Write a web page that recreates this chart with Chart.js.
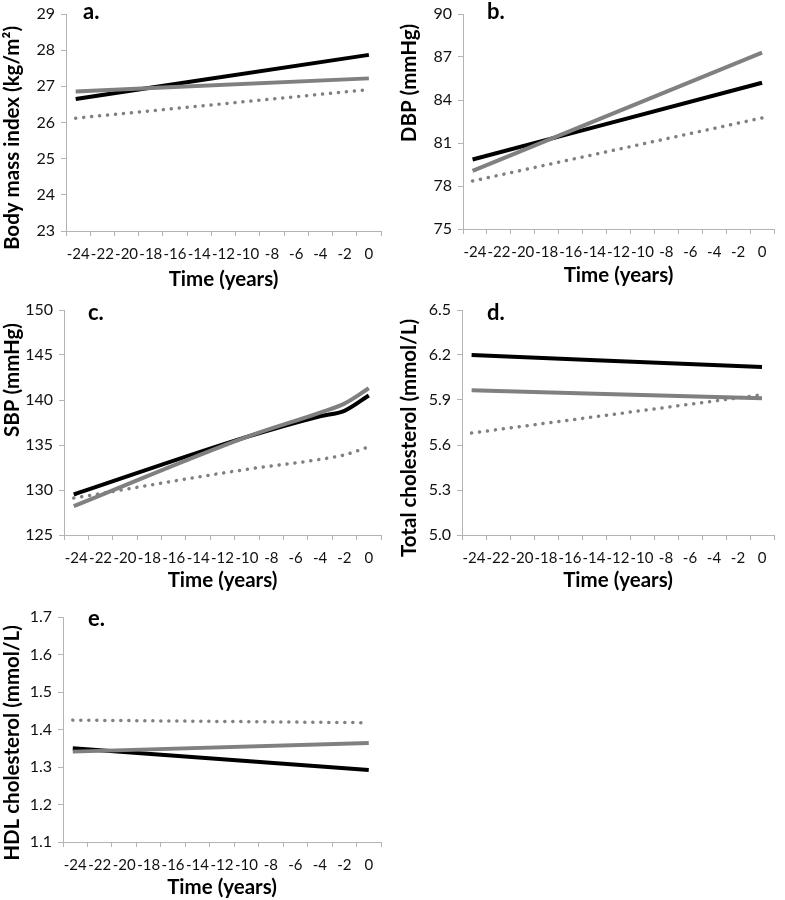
<!DOCTYPE html>
<html>
<head>
<meta charset="utf-8">
<script src="https://cdn.jsdelivr.net/npm/chart.js@4.4.0/dist/chart.umd.min.js"></script>
<style>
  body { margin: 0; background: #fff; }
  #wrap { position: relative; width: 785px; height: 900px; }
  canvas { position: absolute; }
</style>
</head>
<body>
<div id="wrap">
  <canvas id="ca" width="392" height="295" style="left:0;top:0"></canvas>
  <canvas id="cb" width="393" height="295" style="left:392px;top:0"></canvas>
  <canvas id="cc" width="392" height="305" style="left:0;top:295px"></canvas>
  <canvas id="cd" width="393" height="305" style="left:392px;top:295px"></canvas>
  <canvas id="ce" width="392" height="300" style="left:0;top:600px"></canvas>
</div>
<script>
// time points (years before baseline)
const timeYears = [-24.2, 0];
const xTickValues = [-24, -22, -20, -18, -16, -14, -12, -10, -8, -6, -4, -2, 0];

// a. body mass index
const bmiTicks = [23, 24, 25, 26, 27, 28, 29];
const bmiBlack = [26.65, 27.87];
const bmiGrey = [26.86, 27.22];
const bmiDotted = [26.12, 26.91];

// b. diastolic blood pressure
const dbpTicks = [75, 78, 81, 84, 87, 90];
const dbpBlack = [79.85, 85.2];
const dbpGrey = [79.05, 87.3];
const dbpDotted = [78.35, 82.75];

// c. systolic blood pressure
const sbpYears = [-24.2, -10, -4, -2, 0];
const sbpTicks = [125, 130, 135, 140, 145, 150];
const sbpBlack = [129.5, 135.9, 138.2, 138.8, 140.5];
const sbpGrey = [128.2, 135.9, 138.6, 139.6, 141.3];
const sbpDotted = [129.1, 132.3, 133.4, 133.9, 134.8];

// d. total cholesterol
const tcTicks = [5.0, 5.3, 5.6, 5.9, 6.2, 6.5];
const tcBlack = [6.2, 6.12];
const tcGrey = [5.965, 5.912];
const tcDotted = [5.68, 5.935];

// e. HDL cholesterol
const hdlTicks = [1.1, 1.2, 1.3, 1.4, 1.5, 1.6, 1.7];
const hdlBlack = [1.35, 1.292];
const hdlGrey = [1.341, 1.364];
const hdlDotted = [1.425, 1.418];

const FONT = 'Lato';
const AXIS = '#b3b3b3';

// y title + panel letter, drawn where the original put them
const panelText = {
  id: 'panelText',
  afterDraw(chart, args, o) {
    const ctx = chart.ctx;
    ctx.save();
    ctx.fillStyle = '#000';
    ctx.font = 'bold 20.5px ' + FONT;
    ctx.textAlign = 'center';
    ctx.textBaseline = 'middle';
    ctx.translate(o.titleX, o.titleY);
    ctx.rotate(-Math.PI / 2);
    ctx.fillText(o.title, 0, 0);
    ctx.restore();
    ctx.save();
    ctx.fillStyle = '#000';
    ctx.font = 'bold 22px ' + FONT;
    ctx.textAlign = 'left';
    ctx.textBaseline = 'alphabetic';
    ctx.fillText(o.letter, o.letterX, o.letterY);
    ctx.restore();
  }
};

function pts(xs, ys) {
  return xs.map((x, i) => ({ x: x, y: ys[i] }));
}

function makeChart(id, p) {
  const series = [
    { data: pts(p.xs, p.dotted), borderColor: '#808080', borderWidth: 3.5, borderDash: [0.1, 7.9], borderCapStyle: 'round' },
    { data: pts(p.xs, p.grey), borderColor: '#808080', borderWidth: 4 },
    { data: pts(p.xs, p.black), borderColor: '#000000', borderWidth: 4 }
  ];
  series.forEach(s => {
    s.pointRadius = 0;
    s.fill = false;
    s.cubicInterpolationMode = 'monotone';
  });

  return new Chart(document.getElementById(id), {
    type: 'line',
    data: { datasets: series },
    plugins: [panelText],
    options: {
      responsive: false,
      animation: false,
      events: [],
      layout: { padding: { left: 0, top: p.top, right: p.right, bottom: 0 } },
      plugins: {
        legend: { display: false },
        tooltip: { enabled: false },
        panelText: p.text
      },
      scales: {
        x: {
          type: 'linear',
          min: -25,
          max: 1,
          afterBuildTicks: (axis) => {
            const t = [];
            for (let v = -25; v <= 1; v++) t.push({ value: v });
            axis.ticks = t;
          },
          afterFit: (axis) => { axis.height = p.xHeight; },
          border: { display: true, color: AXIS, width: 1 },
          grid: {
            drawOnChartArea: false,
            drawTicks: true,
            tickLength: 5,
            color: (c) => (Math.abs(c.tick.value % 2) === 1 ? AXIS : 'rgba(0,0,0,0)')
          },
          ticks: {
            autoSkip: false,
            maxRotation: 0,
            minRotation: 0,
            padding: 11,
            color: '#111',
            font: { family: FONT, size: 15, lineHeight: 1 },
            callback: (v) => (xTickValues.includes(v) ? String(v) : '')
          },
          title: {
            display: true,
            text: 'Time (years)',
            color: '#000',
            font: { family: FONT, size: 20.5, weight: 'bold', lineHeight: 1.2 },
            padding: { top: 0, bottom: p.xTitlePad }
          }
        },
        y: {
          min: p.ticks[0],
          max: p.ticks[p.ticks.length - 1],
          afterBuildTicks: (axis) => { axis.ticks = p.ticks.map(v => ({ value: v })); },
          afterFit: (axis) => { axis.width = p.yWidth; },
          border: { display: true, color: AXIS, width: 1 },
          grid: { drawOnChartArea: false, drawTicks: true, tickLength: 5, color: AXIS },
          ticks: {
            padding: 6,
            color: '#111',
            font: { family: FONT, size: 16, lineHeight: 1 },
            callback: (v) => v.toFixed(p.decimals)
          }
        }
      }
    }
  });
}

makeChart('ca', {
  xs: timeYears, black: bmiBlack, grey: bmiGrey, dotted: bmiDotted,
  ticks: bmiTicks, decimals: 0, top: 8, right: 6, xHeight: 64, yWidth: 66, xTitlePad: 3,
  text: { title: 'Body mass index (kg/m\u00B2)', titleX: 12, titleY: 138, letter: 'a.', letterX: 83, letterY: 19 }
});
makeChart('cb', {
  xs: timeYears, black: dbpBlack, grey: dbpGrey, dotted: dbpDotted,
  ticks: dbpTicks, decimals: 0, top: 7, right: 3, xHeight: 66, yWidth: 71, xTitlePad: 7,
  text: { title: 'DBP (mmHg)', titleX: 17, titleY: 83, letter: 'b.', letterX: 95, letterY: 19 }
});
makeChart('cc', {
  xs: sbpYears, black: sbpBlack, grey: sbpGrey, dotted: sbpDotted,
  ticks: sbpTicks, decimals: 0, top: 15, right: 5, xHeight: 65, yWidth: 64, xTitlePad: 7,
  text: { title: 'SBP (mmHg)', titleX: 12, titleY: 85, letter: 'c.', letterX: 88, letterY: 25 }
});
makeChart('cd', {
  xs: timeYears, black: tcBlack, grey: tcGrey, dotted: tcDotted,
  ticks: tcTicks, decimals: 1, top: 15, right: 3, xHeight: 65, yWidth: 70, xTitlePad: 7,
  text: { title: 'Total cholesterol (mmol/L)', titleX: 17, titleY: 143, letter: 'd.', letterX: 95, letterY: 25 }
});
makeChart('ce', {
  xs: timeYears, black: hdlBlack, grey: hdlGrey, dotted: hdlDotted,
  ticks: hdlTicks, decimals: 1, top: 17, right: 5, xHeight: 58, yWidth: 63, xTitlePad: 0,
  text: { title: 'HDL cholesterol (mmol/L)', titleX: 12, titleY: 143, letter: 'e.', letterX: 88, letterY: 26 }
});
</script>
</body>
</html>
